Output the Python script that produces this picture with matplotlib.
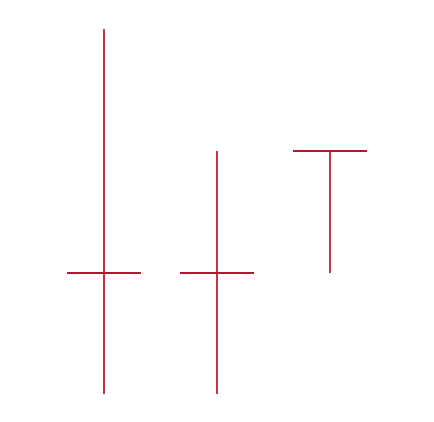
import matplotlib
matplotlib.use("Agg")
import matplotlib.pyplot as plt

# candles (open, high, low, close)
opens = [1, 1, 2]
highs = [3, 2, 2]
lows = [0, 0, 1]
closes = [1, 1, 2]
x = list(range(len(opens)))

color = "#b2102a"

fig = plt.figure(figsize=(4.34, 4.22), dpi=100)
ax = fig.add_axes([0, 0, 1, 1])

ax.vlines(x, lows, highs, color=color, lw=1.2)
ax.hlines(opens, [i - 0.327 for i in x], [i + 0.327 for i in x], color=color, lw=1.2)
ax.hlines(closes, [i - 0.327 for i in x], [i + 0.327 for i in x], color=color, lw=1.2)

ax.set_xlim(-0.92, 2.92)
ax.set_ylim(-0.228, 3.24)
ax.axis("off")

fig.savefig("out.png", dpi=100)
